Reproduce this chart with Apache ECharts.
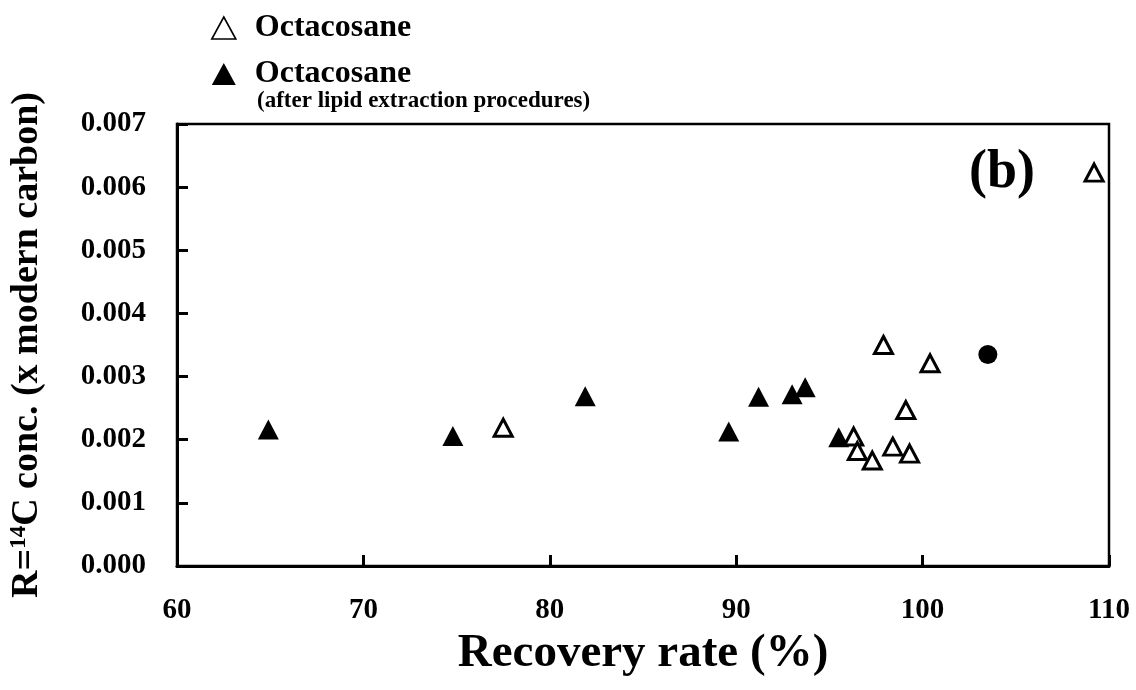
<!DOCTYPE html>
<html>
<head>
<meta charset="utf-8">
<script src="https://cdn.jsdelivr.net/npm/echarts@6/dist/echarts.min.js"></script>
<style>html,body{margin:0;padding:0;background:#fff;}#c{width:1136px;height:690px;}</style>
</head>
<body>
<div id="c"></div>
<script>
// Open triangles: Octacosane
var openX = [77.5, 97.9, 100.4, 99.1, 96.3, 96.5, 97.3, 98.4, 99.3, 109.2];
var openY = [0.00219, 0.00350, 0.00321, 0.00247, 0.00205, 0.00182, 0.00167, 0.00189, 0.00178, 0.00623];
// Filled triangles: Octacosane (after lipid extraction procedures)
var filledX = [64.9, 74.8, 81.9, 89.6, 91.2, 93.0, 93.7, 95.5];
var filledY = [0.00216, 0.00206, 0.00269, 0.00213, 0.00268, 0.00272, 0.00283, 0.00204];
// Filled circle
var circleX = [103.5];
var circleY = [0.00335];
var xTicks = [60, 70, 80, 90, 100, 110];
var yTicks = [0.000, 0.001, 0.002, 0.003, 0.004, 0.005, 0.006, 0.007];

function pairs(xs, ys) { return xs.map(function (x, i) { return [x, ys[i]]; }); }

var FONT = "'Liberation Serif', 'Times New Roman', serif";
var chart = echarts.init(document.getElementById('c'));
chart.setOption({
  animation: false,
  backgroundColor: '#fff',
  grid: { left: 176, right: 27, top: 124, bottom: 124, show: true, borderColor: '#000', borderWidth: 2.5, backgroundColor: 'transparent' },
  legend: {
    orient: 'vertical', left: 206, top: 7, itemWidth: 24, itemHeight: 22, itemGap: 14,
    data: [
      { name: 'Octacosane', icon: 'triangle', itemStyle: { color: '#fff', borderColor: '#000', borderWidth: 1.6, opacity: 1 } },
      { name: 'Octacosane (after lipid extraction procedures)', icon: 'triangle', itemStyle: { color: '#000', borderWidth: 0, opacity: 1 } }
    ],
    formatter: function () { return 'Octacosane'; },
    textStyle: { fontFamily: FONT, fontWeight: 'bold', fontSize: 32, color: '#000', lineHeight: 30, padding: [0, 0, 0, 14] },
    selectedMode: false
  },
  xAxis: {
    type: 'value', min: xTicks[0], max: xTicks[xTicks.length - 1], interval: 10,
    name: 'Recovery rate (%)', nameLocation: 'middle', nameGap: 60,
    nameTextStyle: { fontFamily: FONT, fontWeight: 'bold', fontSize: 47, color: '#000' },
    axisLine: { lineStyle: { color: '#000', width: 3 } },
    axisTick: { inside: true, length: 11, lineStyle: { color: '#000', width: 3 } },
    axisLabel: { margin: 30, fontFamily: FONT, fontWeight: 'bold', fontSize: 29, color: '#000' },
    splitLine: { show: false }
  },
  yAxis: {
    type: 'value', min: yTicks[0], max: yTicks[yTicks.length - 1], interval: 0.001,
    name: '{n|R=}{s|14}{n|C conc. (x modern carbon)}', nameLocation: 'middle', nameGap: 131,
    nameTextStyle: {
      fontFamily: FONT, fontWeight: 'bold', fontSize: 38, color: '#000',
      rich: {
        n: { fontFamily: FONT, fontWeight: 'bold', fontSize: 38, color: '#000' },
        s: { fontFamily: FONT, fontWeight: 'bold', fontSize: 23, color: '#000', verticalAlign: 'top', padding: [0, 0, 14, 0] }
      }
    },
    axisLine: { lineStyle: { color: '#000', width: 3 } },
    axisTick: { inside: true, length: 11, lineStyle: { color: '#000', width: 3 } },
    axisLabel: { margin: 31, fontFamily: FONT, fontWeight: 'bold', fontSize: 29, color: '#000', formatter: function (v) { return v.toFixed(3); } },
    splitLine: { show: false }
  },
  series: [
    {
      name: 'Octacosane (after lipid extraction procedures)', type: 'scatter', symbol: 'triangle', symbolSize: [21, 20],
      itemStyle: { color: '#000', opacity: 1 }, data: pairs(filledX, filledY), z: 3
    },
    {
      name: 'Octacosane', type: 'scatter', symbol: 'triangle', symbolSize: [18, 17],
      itemStyle: { color: '#fff', borderColor: '#000', borderWidth: 3, opacity: 1 }, data: pairs(openX, openY), z: 4
    },
    {
      name: 'circle', type: 'scatter', symbol: 'circle', symbolSize: 19,
      itemStyle: { color: '#000', opacity: 1 }, data: pairs(circleX, circleY), z: 3
    }
  ],
  graphic: [
    { type: 'text', left: 257, top: 90, style: { text: '(after lipid extraction procedures)', font: 'bold 23px ' + FONT, fill: '#000' } },
    { type: 'text', x: 1002, y: 173, style: { text: '(b)', font: 'bold 54px ' + FONT, fill: '#000', textAlign: 'center', textVerticalAlign: 'middle' } }
  ]
});
</script>
</body>
</html>
